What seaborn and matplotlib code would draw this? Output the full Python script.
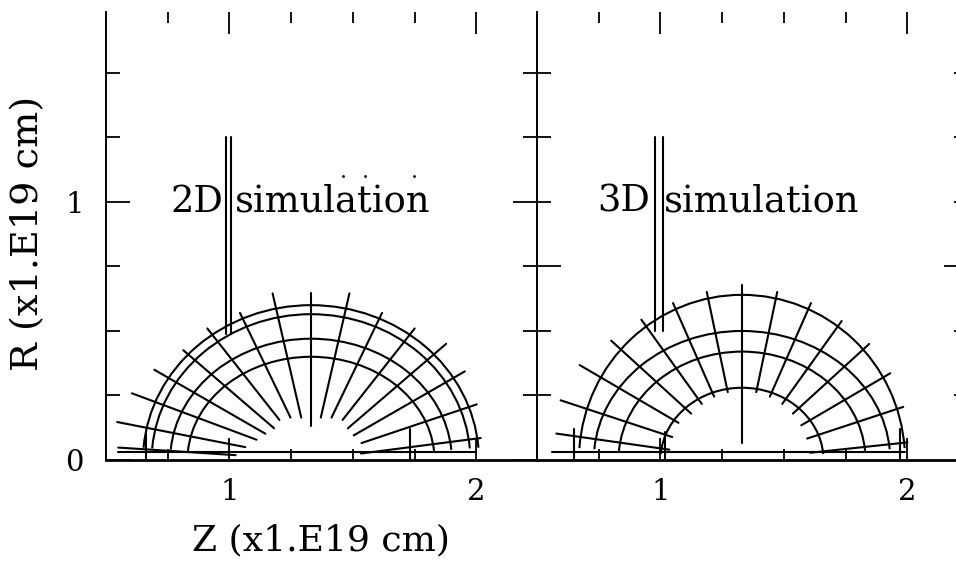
import numpy as np
import pandas as pd
import matplotlib
matplotlib.use("Agg")
import matplotlib.pyplot as plt
import seaborn as sns
from matplotlib.patches import Arc
from matplotlib.ticker import FixedLocator, FixedFormatter

# ---------------- data ----------------
panel_tags = ["2D", "3D"]
panel_word = "simulation"
x_label = "Z (x1.E19 cm)"
y_label = "R (x1.E19 cm)"
x_major = [1, 2]
x_major_labels = ["1", "2"]
x_minor = [0.75, 1.25, 1.5, 1.75]
y_major_left = [0, 1]
y_major_labels = ["0", "1"]
y_minor = [0.25, 0.5, 0.75, 1.25, 1.5]
y_major_right_panel = [0.75]
y_minor_right_panel = [0.25, 0.5, 1.0, 1.25, 1.5]

# shell (arc) geometry: centre on the axis, semi-axes along Z and R
center_2d = 1.33
arc_a_2d = [0.68, 0.645, 0.57, 0.50]
arc_b_2d = [0.60, 0.565, 0.47, 0.40]
center_3d = 1.33
arc_a_3d = [0.66, 0.60, 0.50, 0.33]
arc_b_3d = [0.64, 0.50, 0.42, 0.28]

# radial mesh lines: angle (deg), inner / outer fraction of outer shell
ang_2d = [8, 20, 32, 43, 54, 66, 78, 90, 102, 114, 126, 137, 148, 158, 168, 176]
rin_2d = [0.30, 0.32, 0.30, 0.30, 0.32, 0.30, 0.28, 0.22, 0.28, 0.30, 0.32, 0.30, 0.32, 0.35, 0.40, 0.45]
rout_2d = [1.02, 1.05, 1.08, 1.10, 1.05, 1.04, 1.10, 1.08, 1.10, 1.04, 1.05, 1.04, 1.10, 1.15, 1.18, 1.15]
ang_3d = [6, 18, 30, 42, 54, 66, 78, 90, 102, 114, 126, 138, 150, 162, 172]
rin_3d = [0.42, 0.42, 0.42, 0.42, 0.42, 0.42, 0.42, 0.10, 0.42, 0.42, 0.42, 0.42, 0.45, 0.45, 0.45]
rout_3d = [1.02, 1.04, 1.05, 1.05, 1.04, 1.04, 1.04, 1.06, 1.04, 1.04, 1.05, 1.08, 1.15, 1.17, 1.15]

# jet (double vertical line)
jet_z_2d = [0.984, 1.006]
jet_z_3d = [0.976, 1.012]
jet_top = 1.25
jet_bottom_2d = 0.49
jet_bottom_3d = 0.50

# lines along the axis: z start, z end, R
axis_z0_2d, axis_z1_2d, axis_r_2d = 0.55, 2.0, 0.03
axis_z0_3d, axis_z1_3d, axis_r_3d = 0.56, 1.99, 0.03
# short vertical stubs near the axis
stub_z_2d = [0.66, 1.73]
stub_top_2d = [0.11, 0.12]
stub_z_3d = [0.65, 1.02, 1.97]
stub_top_3d = [0.12, 0.11, 0.12]

# specks above the text in the left panel
speck_z = [1.46, 1.55, 1.745]
speck_r = [1.10, 1.10, 1.10]

# text placement (data coords)
tag_z = [0.76, 0.745]
word_z = [1.02, 1.012]
text_r = 1.0

# ---------------- figure ----------------
sns.set_style("white")
plt.rcParams["font.family"] = ["DejaVu Serif", "DejaVu Sans"]
for key in ("text.color", "axes.labelcolor", "xtick.color", "ytick.color",
            "axes.edgecolor"):
    plt.rcParams[key] = "black"

W, H = 956, 563
fig = plt.figure(figsize=(W / 100, H / 100), dpi=100)
fig.patch.set_facecolor("white")

ax_w = 431
ax_h = 448
axes = [
    fig.add_axes([106 / W, (H - 460) / H, ax_w / W, ax_h / H]),
    fig.add_axes([537 / W, (H - 460) / H, ax_w / W, ax_h / H]),
]

LW = 1.5

def mesh_frame(center, a_list, b_list, ang, rin, rout, jet_z, jet_bottom,
               az0, az1, ar, sz, stop):
    rows = []
    seg = 0
    a0, b0 = a_list[0], b_list[0]
    for t, f0, f1 in zip(ang, rin, rout):
        th = np.deg2rad(t)
        for f in (f0, f1):
            rows.append((center + f * a0 * np.cos(th), f * b0 * np.sin(th), seg))
        seg += 1
    for jz in jet_z:
        rows.append((jz, jet_top, seg))
        rows.append((jz, jet_bottom, seg))
        seg += 1
    rows.append((az0, ar, seg))
    rows.append((az1, ar, seg))
    seg += 1
    for z, top in zip(sz, stop):
        rows.append((z, 0.0, seg))
        rows.append((z, top, seg))
        seg += 1
    return pd.DataFrame(rows, columns=["Z", "R", "seg"])

specs = [
    (center_2d, arc_a_2d, arc_b_2d, ang_2d, rin_2d, rout_2d, jet_z_2d, jet_bottom_2d,
     axis_z0_2d, axis_z1_2d, axis_r_2d, stub_z_2d, stub_top_2d),
    (center_3d, arc_a_3d, arc_b_3d, ang_3d, rin_3d, rout_3d, jet_z_3d, jet_bottom_3d,
     axis_z0_3d, axis_z1_3d, axis_r_3d, stub_z_3d, stub_top_3d),
]

for i, ax in enumerate(axes):
    sp = specs[i]
    df = mesh_frame(*sp)
    sns.lineplot(data=df, x="Z", y="R", units="seg", estimator=None, sort=False,
                 color="black", linewidth=LW, ax=ax, legend=False)
    center, a_list, b_list = sp[0], sp[1], sp[2]
    for a, b in zip(a_list, b_list):
        ax.add_patch(Arc((center, 0), 2 * a, 2 * b, theta1=4, theta2=176,
                         color="black", linewidth=LW))
    if i == 0:
        sns.scatterplot(x=speck_z, y=speck_r, ax=ax, color="black", s=4,
                        linewidth=0, legend=False)

    ax.set_xlim(0.5, 2.245)
    ax.set_ylim(0, 1.736)
    ax.set_xlabel("")
    ax.set_ylabel("")
    ax.set_facecolor("none")

    ax.text(tag_z[i], text_r, panel_tags[i], fontsize=26.5, ha="left", va="center",
            color="black")
    ax.text(word_z[i], text_r, panel_word, fontsize=26.5, ha="left", va="center",
            color="black")

    for s in ("top", "right"):
        ax.spines[s].set_visible(False)
    ax.spines["left"].set_linewidth(1.4)
    ax.spines["bottom"].set_linewidth(2.0)

    ax.xaxis.set_major_locator(FixedLocator(x_major))
    ax.xaxis.set_major_formatter(FixedFormatter(x_major_labels))
    ax.xaxis.set_minor_locator(FixedLocator(x_minor))
    if i == 0:
        ax.yaxis.set_major_locator(FixedLocator(y_major_left))
        ax.yaxis.set_major_formatter(FixedFormatter(y_major_labels))
        ax.yaxis.set_minor_locator(FixedLocator(y_minor))
    else:
        ax.yaxis.set_major_locator(FixedLocator(y_major_right_panel))
        ax.yaxis.set_minor_locator(FixedLocator(y_minor_right_panel))
    ax.tick_params(axis="x", which="both", direction="in", top=True, bottom=True,
                   width=1.3, color="black", labelsize=21, pad=13,
                   labelcolor="black")
    ax.tick_params(axis="x", which="major", length=16)
    ax.tick_params(axis="x", which="minor", length=8)
    ax.tick_params(axis="y", which="both", direction="in", left=True, right=True,
                   width=1.3, color="black", labelsize=21, pad=16,
                   labelleft=(i == 0), labelright=False, labelcolor="black")
    ax.tick_params(axis="y", which="major", length=17)
    ax.tick_params(axis="y", which="minor", length=10)

fig.text(321 / W, 1 - 540 / H, x_label, fontsize=26, ha="center", va="center",
         color="black")
fig.text(28 / W, 1 - 233 / H, y_label, fontsize=27.5, ha="center", va="center",
         rotation=90, color="black")

fig.savefig("out.png", dpi=100, facecolor="white")
